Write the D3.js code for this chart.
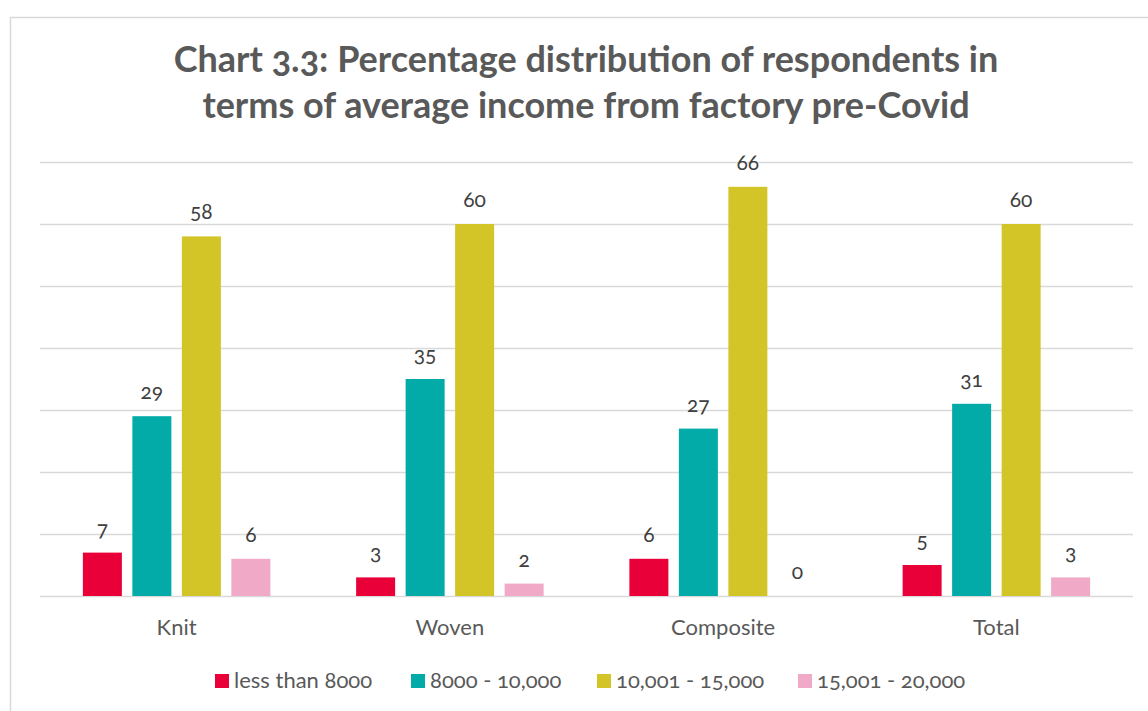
<!DOCTYPE html>
<html>
<head>
<meta charset="utf-8">
<script src="https://cdn.jsdelivr.net/npm/d3@7"></script>
<style>
  html, body { margin: 0; padding: 0; background: #ffffff; }
  svg { display: block; }
  text { font-family: Lato, "Open Sans", sans-serif; font-variant-numeric: oldstyle-nums; }
</style>
</head>
<body>
<svg id="chart" width="1148" height="711"></svg>
<script>
// Income bands (series) and factory types (categories)
const categories = ["Knit", "Woven", "Composite", "Total"];
const seriesNames = ["less than 8000", "8000 - 10,000", "10,001 - 15,000", "15,001 - 20,000"];
const seriesColors = ["#EA0039", "#02ABA8", "#D3C527", "#F0AAC7"];

// Percentage of respondents per series, in category order
const lessThan8000 = [7, 3, 6, 5];
const from8000to10000 = [29, 35, 27, 31];
const from10001to15000 = [58, 60, 66, 60];
const from15001to20000 = [6, 2, 0, 3];

const yTicks = [0, 10, 20, 30, 40, 50, 60, 70];
const titleLines = [
  "Chart 3.3: Percentage distribution of respondents in",
  "terms of average income from factory pre-Covid"
];

const seriesValues = [lessThan8000, from8000to10000, from10001to15000, from15001to20000];
const rows = categories.map((c, i) => ({
  category: c,
  values: seriesNames.map((s, k) => ({ series: s, color: seriesColors[k], value: seriesValues[k][i] }))
}));

const svg = d3.select("#chart");
const W = 1148, H = 711;

// Chart area frame
svg.append("rect")
  .attr("x", 10.5).attr("y", 17.5)
  .attr("width", W + 20).attr("height", H + 20)
  .attr("fill", "#ffffff")
  .attr("stroke", "#d9d9d9").attr("stroke-width", 1.5);

const plot = { left: 40, right: 1133, top: 162, bottom: 596 };

const x0 = d3.scaleBand().domain(categories).range([plot.left, plot.right]).paddingInner(0).paddingOuter(0);
const groupWidth = 187.5;
const x1 = d3.scaleBand().domain(seriesNames).range([0, groupWidth]).paddingInner(0.2121).paddingOuter(0);
const y = d3.scaleLinear().domain([0, 70]).range([plot.bottom, plot.top]);

// Horizontal gridlines
const yAxis = d3.axisLeft(y).tickValues(yTicks).tickSize(-(plot.right - plot.left)).tickFormat("");
const gAxis = svg.append("g").attr("transform", `translate(${plot.left},0)`).call(yAxis);
gAxis.select(".domain").remove();
gAxis.selectAll(".tick line").attr("stroke", "#d9d9d9").attr("stroke-width", 1.5);

// Title
const title = svg.append("g");
const titleText = title.selectAll("text").data(titleLines).join("text")
  .attr("x", 586)
  .attr("y", (d, i) => 72 + i * 46)
  .attr("text-anchor", "middle")
  .attr("fill", "#595959")
  .attr("font-weight", "bold")
  .attr("font-size", 32)
  .text(d => d);
const firstLen = titleText.nodes()[0].getComputedTextLength();
titleText.attr("font-size", 32 * 825 / firstLen);

// Bars
const groups = svg.append("g").selectAll("g").data(rows).join("g")
  .attr("transform", d => `translate(${x0(d.category) + (x0.bandwidth() - groupWidth) / 2},0)`);

groups.selectAll("rect").data(d => d.values).join("rect")
  .attr("x", d => x1(d.series))
  .attr("y", d => y(d.value))
  .attr("width", x1.bandwidth())
  .attr("height", d => y(0) - y(d.value))
  .attr("fill", d => d.color);

// Data labels
groups.selectAll("text").data(d => d.values).join("text")
  .attr("x", d => x1(d.series) + x1.bandwidth() / 2)
  .attr("y", d => y(d.value) - 17)
  .attr("text-anchor", "middle")
  .attr("fill", "#404040")
  .attr("font-size", 21)
  .text(d => d.value);

// Category axis labels
svg.append("g").selectAll("text").data(categories).join("text")
  .attr("x", d => x0(d) + x0.bandwidth() / 2)
  .attr("y", 635)
  .attr("text-anchor", "middle")
  .attr("fill", "#595959")
  .attr("font-size", 22)
  .text(d => d);

// Legend
const legendX = [215, 411, 597, 798];
const legend = svg.append("g").selectAll("g").data(seriesNames).join("g")
  .attr("transform", (d, i) => `translate(${legendX[i]},674)`);
legend.append("rect")
  .attr("width", 14).attr("height", 14)
  .attr("fill", (d, i) => seriesColors[i]);
legend.append("text")
  .attr("x", 19).attr("y", 14)
  .attr("fill", "#595959")
  .attr("font-size", 22)
  .text(d => d);
</script>
</body>
</html>
